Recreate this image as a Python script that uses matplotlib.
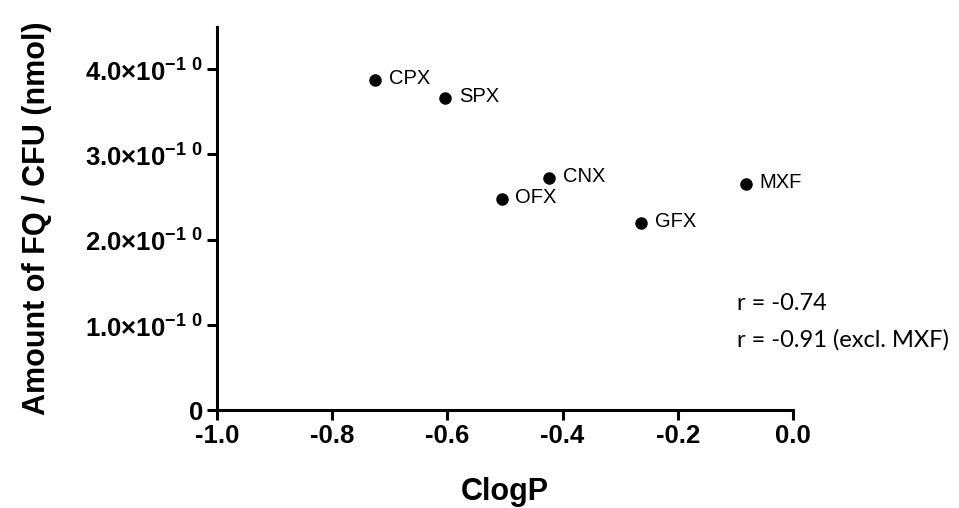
"""
ClogP vs amount of fluoroquinolone per CFU, scatter with drug labels
"""
import matplotlib
matplotlib.use('Agg')
import matplotlib.pyplot as plt
from matplotlib.ticker import FuncFormatter

plt.rcParams['font.family'] = ['Liberation Sans', 'DejaVu Sans']
plt.rcParams['mathtext.fontset'] = 'custom'
plt.rcParams['mathtext.rm'] = 'Liberation Sans:bold'
plt.rcParams['mathtext.bf'] = 'Liberation Sans:bold'

drugs = ['CPX', 'SPX', 'OFX', 'CNX', 'GFX', 'MXF']
clogp = [-0.726, -0.604, -0.506, -0.423, -0.264, -0.082]
amount = [3.87e-10, 3.66e-10, 2.48e-10, 2.72e-10, 2.20e-10, 2.65e-10]

x_ticks = [-1.0, -0.8, -0.6, -0.4, -0.2, 0.0]
y_ticks = [0, 1e-10, 2e-10, 3e-10, 4e-10]
r_lines = ['r = -0.74', 'r = -0.91 (excl. MXF)']


def sci_label(v, pos):
    if v == 0:
        return '0'
    return r'$%.1f{\times}10^{-1\ 0}$' % (v / 1e-10)


fig = plt.figure(figsize=(9.59, 5.08), dpi=100)
ax = fig.add_axes([217 / 959, 1 - 410 / 508, 576 / 959, (410 - 26.7) / 508])

ax.plot(clogp, amount, 'o', color='black', markersize=8, clip_on=False)
for name, x, y in zip(drugs, clogp, amount):
    ax.annotate(name, (x, y), xytext=(10, 1), textcoords='offset points',
                ha='left', va='center', fontsize=14.5)

ax.set_xlim(-1.0, 0.0)
ax.set_ylim(0, 4.5e-10)
ax.set_xticks(x_ticks)
ax.set_xticklabels(['%.1f' % t for t in x_ticks])
ax.set_yticks(y_ticks)
ax.yaxis.set_major_formatter(FuncFormatter(sci_label))

for side in ['top', 'right']:
    ax.spines[side].set_visible(False)
for side in ['left', 'bottom']:
    ax.spines[side].set_linewidth(2.2)
ax.tick_params(direction='out', length=7.2, width=2.2, labelsize=18.5, pad=3)
for lbl in ax.get_xticklabels() + ax.get_yticklabels():
    lbl.set_fontweight('bold')

ax.set_xlabel('ClogP', fontsize=22, fontweight='bold', labelpad=21)
ax.set_ylabel('Amount of FQ / CFU (nmol)', fontsize=22, fontweight='bold')
ax.yaxis.set_label_coords(-165 / 576, 0.5)

ax.text(737 / 959, 1 - 303 / 508, r_lines[0], transform=fig.transFigure,
        fontsize=17, family='Lato', va='center', ha='left')
ax.text(737 / 959, 1 - 340 / 508, r_lines[1], transform=fig.transFigure,
        fontsize=17, family='Lato', va='center', ha='left')

fig.savefig('out.png', dpi=100)
